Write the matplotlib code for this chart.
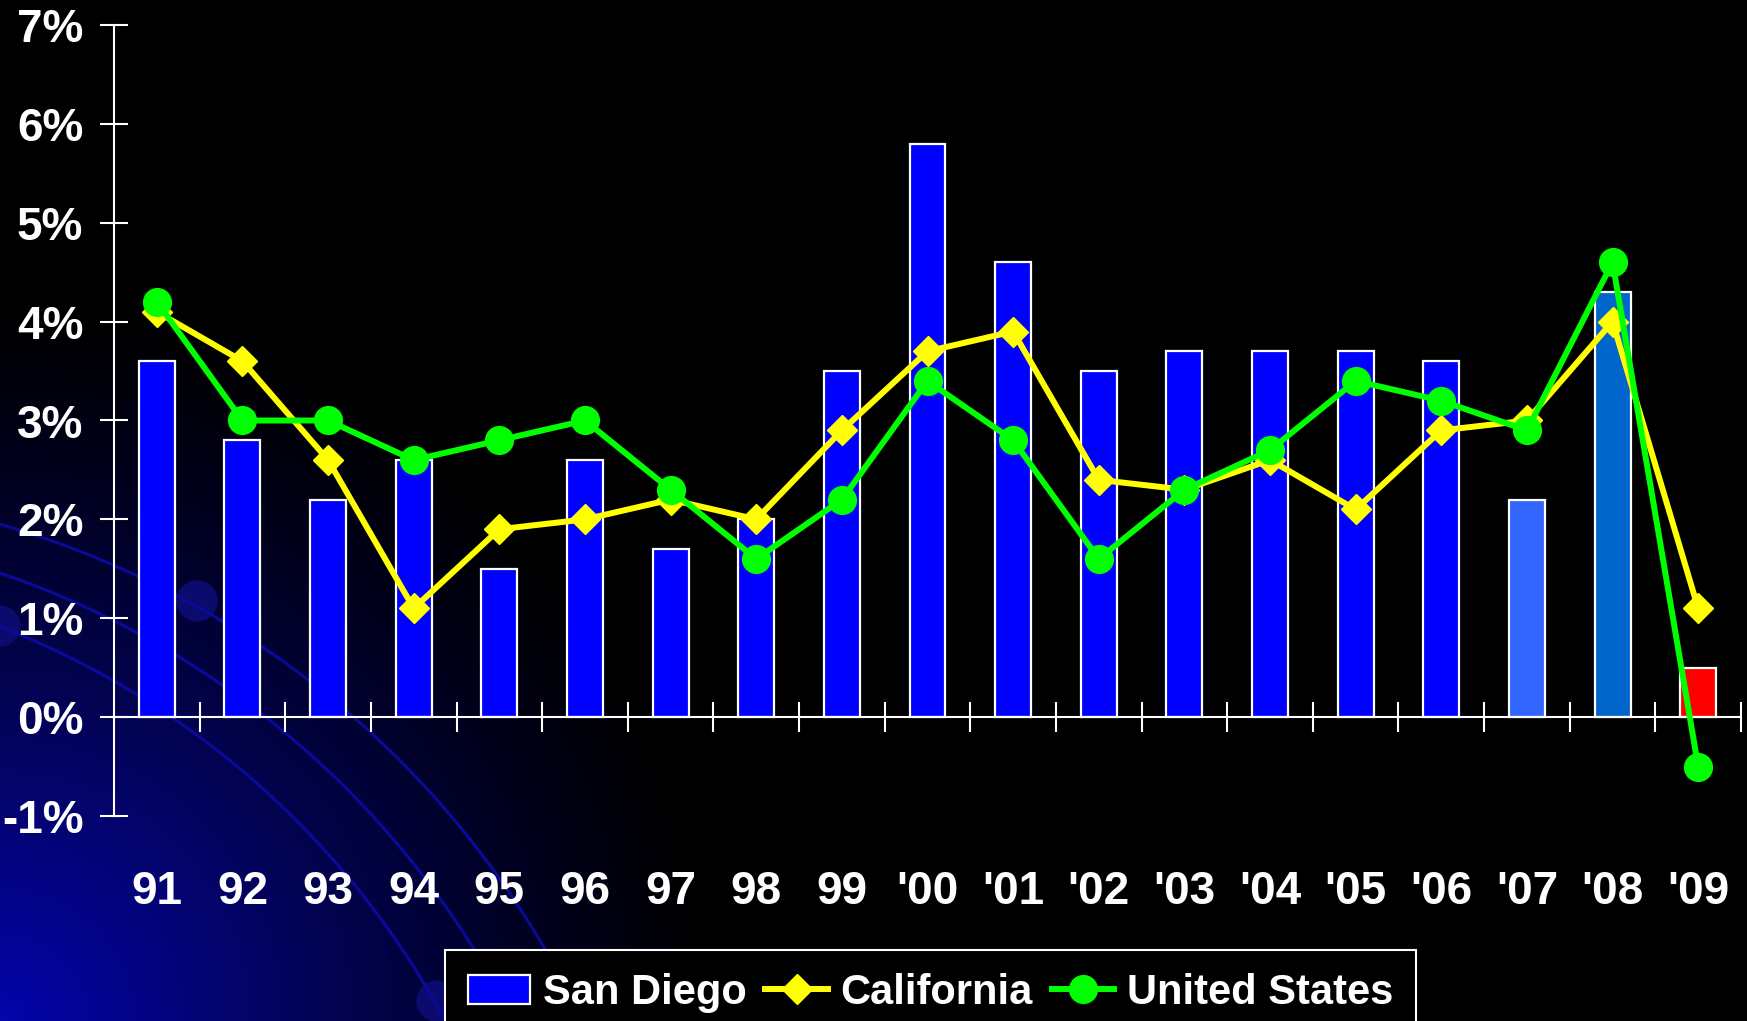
import numpy as np
import matplotlib
matplotlib.use("Agg")
import matplotlib.pyplot as plt
from matplotlib.patches import Patch, Circle
from matplotlib.lines import Line2D

years = ["91", "92", "93", "94", "95", "96", "97", "98", "99", "'00",
         "'01", "'02", "'03", "'04", "'05", "'06", "'07", "'08", "'09"]
san_diego = [3.6, 2.8, 2.2, 2.6, 1.5, 2.6, 1.7, 2.0, 3.5, 5.8,
             4.6, 3.5, 3.7, 3.7, 3.7, 3.6, 2.2, 4.3, 0.5]
california = [4.1, 3.6, 2.6, 1.1, 1.9, 2.0, 2.2, 2.0, 2.9, 3.7,
              3.9, 2.4, 2.3, 2.6, 2.1, 2.9, 3.0, 4.0, 1.1]
united_states = [4.2, 3.0, 3.0, 2.6, 2.8, 3.0, 2.3, 1.6, 2.2, 3.4,
                 2.8, 1.6, 2.3, 2.7, 3.4, 3.2, 2.9, 4.6, -0.5]
bar_colors = ["#0000FF"] * 16 + ["#3366FF", "#0066CC", "#FF0000"]

W, H = 1747, 1021
plt.rcParams['font.family'] = ['Liberation Sans', 'DejaVu Sans']
fig = plt.figure(figsize=(W / 100, H / 100), dpi=100, facecolor="black")

# background: blue glow in bottom-left corner with a few arcs (slide template)
bg = fig.add_axes([0, 0, 1, 1], zorder=-5)
bg.set_xlim(0, W)
bg.set_ylim(H, 0)
bg.axis("off")
yy, xx = np.mgrid[0:H:2, 0:W:2]
d = np.sqrt(xx ** 2 + (H - yy) ** 2)
k = np.clip(1 - d / 720, 0, 1) ** 1.2
img = np.zeros(xx.shape + (3,))
img[..., 2] = 0.68 * k
img[..., 0] = 0.02 * k
img[..., 1] = 0.02 * k
bg.imshow(img, extent=(0, W, H, 0), aspect="auto", interpolation="bilinear")
for cx, cy, r in [(-257, 1416, 928), (-290, 1425, 900), (-315, 1431, 864)]:
    t = np.linspace(-np.pi / 2, 0, 300)
    bg.plot(cx + r * np.cos(t), cy + r * np.sin(t), color="#0a0a9a", lw=2.2)
for cx, cy in [(197, 601), (0, 626), (437, 1001)]:
    bg.add_patch(Circle((cx, cy), 20, color="#0b0b6e"))

ax = fig.add_axes([114 / W, (H - 816) / H, (1741 - 114) / W, (816 - 25) / H])
ax.set_facecolor("none")
x = np.arange(len(years))

ax.bar(x, san_diego, width=0.42, color=bar_colors, edgecolor="white", linewidth=1.6, zorder=2)
ax.plot(x, california, color="#FFFF00", lw=4.3, marker="D", markersize=15, zorder=3)
ax.plot(x, united_states, color="#00FF00", lw=4.3, marker="o", markersize=20, zorder=4)

ax.set_xlim(-0.5, len(years) - 0.5)
ax.set_ylim(-1, 7)
for s in ["top", "right"]:
    ax.spines[s].set_visible(False)
ax.spines["bottom"].set_position(("data", 0))
for s in ["left", "bottom"]:
    ax.spines[s].set_color("white")
    ax.spines[s].set_linewidth(1.5)

ax.set_yticks(range(-1, 8))
ax.set_yticklabels([f"{v}%" for v in range(-1, 8)])
ax.tick_params(axis="y", direction="inout", length=20, width=1.5, colors="white",
               labelsize=33, pad=12)
ax.set_xticks(x)
ax.set_xticklabels(years)
ax.set_xticks(np.arange(0.5, len(years)), minor=True)
ax.tick_params(axis="x", which="major", length=0, colors="white", labelsize=33, pad=110)
ax.tick_params(axis="x", which="minor", direction="inout", length=22, width=1.5, color="white")
for lab in ax.get_xticklabels() + ax.get_yticklabels():
    lab.set_fontweight("bold")

handles = [
    Patch(facecolor="#0000FF", edgecolor="white", linewidth=1.6),
    Line2D([], [], color="#FFFF00", lw=4.3, marker="D", markersize=15),
    Line2D([], [], color="#00FF00", lw=4.3, marker="o", markersize=20),
]
leg = fig.legend(handles, ["San Diego", "California", "United States"],
                 loc="upper left", bbox_to_anchor=(445 / W, 1 - 950 / H),
                 borderaxespad=0, ncol=3, frameon=True, fancybox=False,
                 facecolor="black", edgecolor="white", framealpha=1,
                 borderpad=0.55, handlelength=1.5, handleheight=0.7,
                 handletextpad=0.3, columnspacing=0.45,
                 prop={"weight": "bold", "size": 30})
leg.get_frame().set_linewidth(1.5)
for t in leg.get_texts():
    t.set_color("white")

fig.savefig("out.png", dpi=100, facecolor="black")
